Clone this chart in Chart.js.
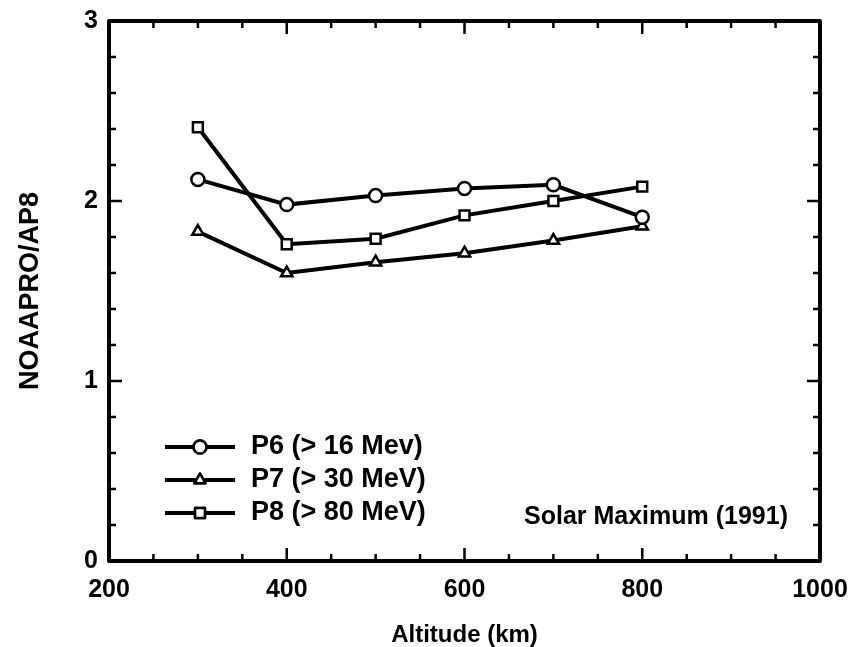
<!DOCTYPE html>
<html>
<head>
<meta charset="utf-8">
<script src="https://cdn.jsdelivr.net/npm/chart.js@4.4.1/dist/chart.umd.min.js"></script>
<style>
    html, body { margin: 0; padding: 0; background: #fff; }
    #wrap { width: 849px; height: 647px; }
</style>
</head>
<body>
<div id="wrap"><canvas id="altChart" width="849" height="647"></canvas></div>
<script>
// values
const altitudes = [300, 400, 500, 600, 700, 800];
const p6Ratio = [2.12, 1.98, 2.03, 2.07, 2.09, 1.91];
const p7Ratio = [1.83, 1.60, 1.66, 1.71, 1.78, 1.86];
const p8Ratio = [2.41, 1.76, 1.79, 1.92, 2.00, 2.08];
const seriesLabels = ['P6 (> 16 Mev)', 'P7 (> 30 MeV)', 'P8 (> 80 MeV)'];
const seriesMarkers = ['circle', 'triangle', 'rect'];
const xTickValues = [200, 400, 600, 800, 1000];
const yTickValues = [0, 1, 2, 3];
const noteText = 'Solar Maximum (1991)';

const FONT = "'Liberation Sans', Arial, sans-serif";

function toPoints(ys) {
    return altitudes.map((x, i) => ({ x: x, y: ys[i] }));
}

function makeSet(label, ys, marker) {
    return {
        label: label,
        data: toPoints(ys),
        borderColor: '#000',
        borderWidth: 4,
        pointStyle: marker,
        pointRadius: marker === 'rect' ? 7 : 6.5,
        pointBorderWidth: 2.5,
        pointBackgroundColor: '#fff',
        pointBorderColor: '#000',
        tension: 0
    };
}

// box frame with inward ticks, legend and note
const framePlugin = {
    id: 'frame',
    afterDatasetsDraw(chart) {
        const { ctx, chartArea: a, scales } = chart;
        const xs = scales.x, ys = scales.y;
        ctx.save();
        ctx.strokeStyle = '#000';
        ctx.lineCap = 'butt';

        ctx.lineWidth = 2.5;
        for (let v = 200; v <= 1000; v += 50) {
            const px = xs.getPixelForValue(v);
            const len = v % 200 === 0 ? 13 : 7;
            ctx.beginPath();
            ctx.moveTo(px, a.bottom); ctx.lineTo(px, a.bottom - len);
            ctx.moveTo(px, a.top); ctx.lineTo(px, a.top + len);
            ctx.stroke();
        }
        for (let k = 0; k <= 15; k++) {
            const v = k * 0.2;
            const py = ys.getPixelForValue(v);
            const len = k % 5 === 0 ? 13 : 7;
            ctx.beginPath();
            ctx.moveTo(a.left, py); ctx.lineTo(a.left + len, py);
            ctx.moveTo(a.right, py); ctx.lineTo(a.right - len, py);
            ctx.stroke();
        }

        ctx.lineWidth = 4;
        ctx.lineJoin = 'round';
        ctx.strokeRect(a.left, a.top, a.right - a.left, a.bottom - a.top);

        // legend
        const rows = [447, 480, 513];
        chart.data.datasets.forEach((ds, i) => {
            const y = rows[i];
            ctx.lineWidth = 4;
            ctx.beginPath();
            ctx.moveTo(165, y); ctx.lineTo(235, y);
            ctx.stroke();
            ctx.fillStyle = '#fff';
            ctx.lineWidth = 2.5;
            Chart.helpers.drawPoint(ctx, {
                pointStyle: ds.pointStyle,
                radius: ds.pointRadius,
                borderWidth: 2.5
            }, 200, y);
            ctx.fill();
            ctx.stroke();
            ctx.fillStyle = '#000';
            ctx.font = 'bold 27px ' + FONT;
            ctx.textBaseline = 'middle';
            ctx.textAlign = 'left';
            ctx.fillText(ds.label, 251, y);
        });

        ctx.font = 'bold 25px ' + FONT;
        ctx.textAlign = 'right';
        ctx.textBaseline = 'middle';
        ctx.fillStyle = '#000';
        ctx.fillText(noteText, 788, 517);
        ctx.restore();
    }
};

new Chart(document.getElementById('altChart').getContext('2d'), {
    type: 'line',
    data: {
        datasets: [
            makeSet(seriesLabels[0], p6Ratio, seriesMarkers[0]),
            makeSet(seriesLabels[1], p7Ratio, seriesMarkers[1]),
            makeSet(seriesLabels[2], p8Ratio, seriesMarkers[2])
        ]
    },
    options: {
        responsive: false,
        animation: false,
        layout: { padding: { left: 0, top: 21, right: 29, bottom: 0 } },
        plugins: {
            legend: { display: false },
            tooltip: { enabled: false }
        },
        scales: {
            x: {
                type: 'linear',
                min: 200,
                max: 1000,
                afterBuildTicks: (s) => { s.ticks = xTickValues.map(v => ({ value: v })); },
                afterFit: (s) => { s.height = 86; s.paddingLeft = 0; s.paddingRight = 0; },
                grid: { display: false, drawTicks: false },
                border: { display: false },
                ticks: {
                    padding: 14,
                    color: '#000',
                    maxRotation: 0,
                    callback: (v) => String(v),
                    font: { family: FONT, size: 25, weight: 'bold' }
                },
                title: {
                    display: true,
                    text: 'Altitude (km)',
                    color: '#000',
                    padding: 0,
                    font: { family: FONT, size: 24, weight: 'bold', lineHeight: 1.0 }
                }
            },
            y: {
                type: 'linear',
                min: 0,
                max: 3,
                afterBuildTicks: (s) => { s.ticks = yTickValues.map(v => ({ value: v })); },
                afterFit: (s) => { s.width = 109; s.paddingTop = 0; s.paddingBottom = 0; },
                grid: { display: false, drawTicks: false },
                border: { display: false },
                ticks: {
                    padding: 11,
                    color: '#000',
                    font: { family: FONT, size: 25, weight: 'bold' }
                },
                title: {
                    display: true,
                    text: 'NOAAPRO/AP8',
                    color: '#000',
                    padding: { top: 14, bottom: 0 },
                    font: { family: FONT, size: 27, weight: 'bold' }
                }
            }
        }
    },
    plugins: [framePlugin]
});
</script>
</body>
</html>
